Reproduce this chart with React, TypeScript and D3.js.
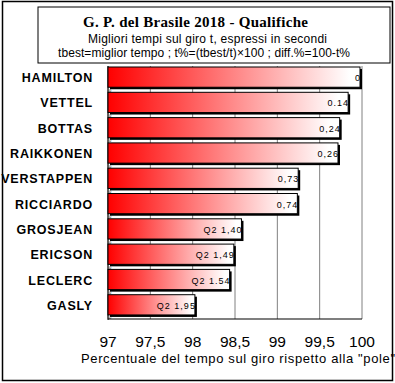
import React from "react";
import * as d3 from "d3";

const drivers = ["HAMILTON", "VETTEL", "BOTTAS", "RAIKKONEN", "VERSTAPPEN", "RICCIARDO", "GROSJEAN", "ERICSON", "LECLERC", "GASLY"];
const percent = [100, 99.86, 99.76, 99.74, 99.27, 99.26, 98.6, 98.51, 98.46, 98.05];
const diffLabels = ["0", "0.14", "0,24", "0,26", "0,73", "0,74", "Q2 1,40", "Q2 1,49", "Q2 1.54", "Q2 1,95"];
const ticks = [97, 97.5, 98, 98.5, 99, 99.5, 100];
const tickLabels = ["97", "97,5", "98", "98,5", "99", "99,5", "100"];
const title = "G. P. del Brasile 2018 - Qualifiche";
const subtitle1 = "Migliori tempi sul giro t, espressi in secondi";
const subtitle2 = "tbest=miglior tempo ; t%=(tbest/t)×100 ; diff.%=100-t%";
const xTitle = "Percentuale del tempo sul giro rispetto alla \"pole\"";

export default function App() {
  const W = 395, H = 383;
  const left = 108, right = 362, top = 66, bottom = 319;
  const x = d3.scaleLinear().domain([97, 100]).range([left, right]);
  const y = d3.scaleBand<string>().domain(drivers).range([top, bottom]).padding(0);
  const bw = y.bandwidth();
  const barH = bw * 0.8;
  const sans = "Arial, 'Liberation Sans', sans-serif";
  return (
    <svg width={W} height={H} style={{ position: "absolute", left: 0, top: 0, background: "#fff" }}>
      <defs>
        <linearGradient id="grad" x1="0" y1="0" x2="1" y2="0">
          <stop offset="0" stopColor="#FF0000" />
          <stop offset="0.96" stopColor="#FFFFFF" />
          <stop offset="1" stopColor="#FFFFFF" />
        </linearGradient>
      </defs>
      <rect x={0} y={0} width={W} height={H} fill="#fff" />
      {ticks.map((t) => (
        <line key={t} x1={x(t)} x2={x(t)} y1={top} y2={bottom} stroke="#808080" strokeWidth={1} />
      ))}
      <line x1={left} x2={left} y1={top} y2={bottom + 1} stroke="#000" strokeWidth={1} />
      <line x1={left} x2={right} y1={bottom} y2={bottom} stroke="#000" strokeWidth={1.2} />
      {drivers.map((d, i) => {
        const y0 = (y(d) as number) + 1;
        const w = x(percent[i]) - left - 2;
        return (
          <g key={d}>
            <rect x={left + 2} y={y0 + 2} width={w} height={barH} fill="#000" />
            <rect x={left} y={y0} width={w} height={barH} fill="url(#grad)" stroke="#000" strokeWidth={1} />
            <text x={left + w + 1} y={y0 + barH / 2 + 4} textAnchor="end" fontFamily={sans} fontSize={9} letterSpacing={1} fill="#000">
              {diffLabels[i]}
            </text>
            <text x={left + 1} y={y0 + barH + 4.5} fontFamily={sans} fontSize={4} fill="#000">0</text>
            <text x={93} y={y0 + barH / 2 + 5} textAnchor="end" fontFamily={sans} fontWeight="bold" fontSize={12.5} letterSpacing={0.8} fill="#000">
              {d}
            </text>
          </g>
        );
      })}
      {ticks.map((t, i) => (
        <text key={t} x={x(t)} y={347} textAnchor="middle" fontFamily={sans} fontSize={15.5} fill="#000">
          {tickLabels[i]}
        </text>
      ))}
      <text x={81} y={363} fontFamily={sans} fontSize={13} textLength={314} lengthAdjust="spacing" fill="#000">{xTitle}</text>
      <rect x={38} y={7} width={352} height={56} fill="#fff" stroke="#000" strokeWidth={1} />
      <text x={83} y={27} fontFamily="'Liberation Serif', 'Times New Roman', serif" fontWeight="bold" fontSize={15} textLength={225} lengthAdjust="spacing" fill="#000">{title}</text>
      <text x={88} y={43} fontFamily={sans} fontSize={12} textLength={239} lengthAdjust="spacing" fill="#000">{subtitle1}</text>
      <text x={58} y={57} fontFamily={sans} fontSize={12} textLength={292} lengthAdjust="spacing" fill="#000">{subtitle2}</text>
      <rect x={2.5} y={1.5} width={390} height={379} fill="none" stroke="#000" strokeWidth={1.5} />
    </svg>
  );
}
